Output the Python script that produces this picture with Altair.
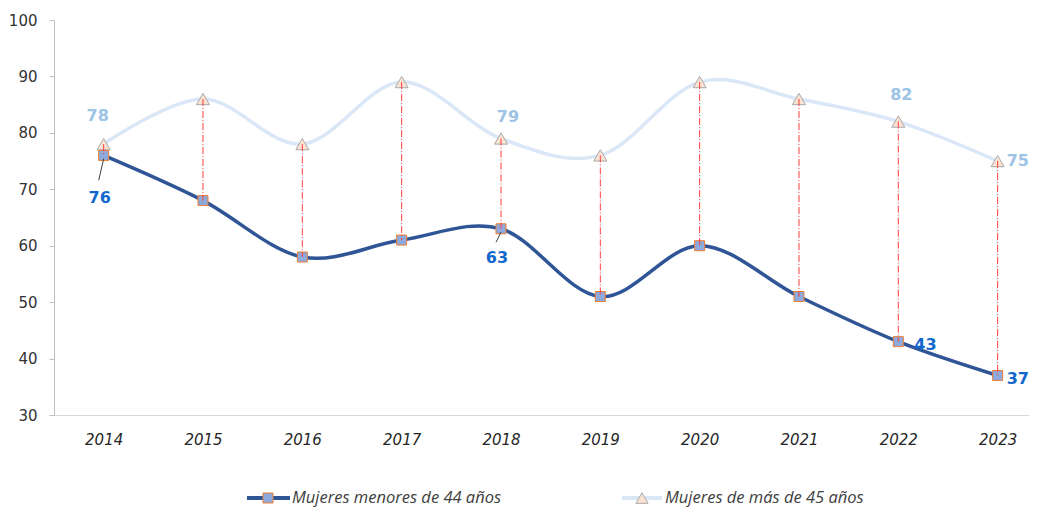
import altair as alt
import pandas as pd

YEARS = [2014, 2015, 2016, 2017, 2018, 2019, 2020, 2021, 2022, 2023]
MENORES = [76, 68, 58, 61, 63, 51, 60, 51, 43, 37]
MAYORES = [78, 86, 78, 89, 79, 76, 89, 86, 82, 75]
SERIES = ["Mujeres menores de 44 años", "Mujeres de más de 45 años"]
Y_TICKS = [30, 40, 50, 60, 70, 80, 90, 100]

DARK = "#2F5597"
LIGHT = "#DAE7F6"
LBL_DARK = "#1368CE"
LBL_LIGHT = "#9DC3E6"

wide = pd.DataFrame({"year": YEARS, "men": MENORES, "may": MAYORES})

PLOT_W = 975
STEP = 99.33
xs = alt.Scale(domain=[2013.5, 2013.5 + PLOT_W / STEP], nice=False, zero=False)
ys = alt.Scale(domain=[30, 100], nice=False, zero=False)

X = alt.X("year:Q", scale=xs, axis=alt.Axis(
    values=YEARS, format="d", ticks=False, grid=False, domainColor="#D9D9D9",
    labelFont="DejaVu Sans", labelFontStyle="italic", labelFontSize=15,
    labelColor="#262626", labelPadding=17, title=None, labelFlush=False))

Y_AXIS = alt.Axis(values=Y_TICKS, grid=False, tickSize=5, tickColor="#BFBFBF",
                  domainColor="#BFBFBF", labelPadding=12, labelFontSize=15,
                  labelFont="DejaVu Sans", labelColor="#333333", title=None)

def Y(field):
    return alt.Y(f"{field}:Q", scale=ys, axis=Y_AXIS)

base = alt.Chart(wide)

line_may = base.mark_line(color=LIGHT, strokeWidth=3.5, interpolate="cardinal").encode(x=X, y=Y("may"))
line_men = base.mark_line(color=DARK, strokeWidth=3.5, interpolate="cardinal").encode(x=X, y=Y("men"))

tri = base.mark_point(shape="triangle-up", size=170, filled=True, fill="#FBE3D3",
                      stroke="#A9A9A9", strokeWidth=1, opacity=1).encode(x=X, y=Y("may"))
sq = base.mark_square(size=100, fill="#8EA9DB", stroke="#ED7D31", strokeWidth=1,
                      opacity=1).encode(x=X, y=Y("men"))

drop = base.mark_rule(color="#FF3B3B", strokeWidth=1, strokeDash=[7, 2, 1, 2]).encode(
    x=X, y=Y("may"), y2="men:Q")

def lab(year, field, color, dx, dy, align="center"):
    return base.transform_filter(alt.datum.year == year).mark_text(
        font="DejaVu Sans", fontWeight="bold", fontSize=16, color=color,
        dx=dx, dy=dy, align=align, baseline="middle").encode(
        x=X, y=Y(field), text=alt.Text(f"{field}:Q", format="d"))

labels = [
    lab(2014, "may", LBL_LIGHT, -6, -28),
    lab(2018, "may", LBL_LIGHT, 7, -22),
    lab(2022, "may", LBL_LIGHT, 3, -27),
    lab(2023, "may", LBL_LIGHT, 9, 0, "left"),
    lab(2014, "men", LBL_DARK, -4, 43),
    lab(2018, "men", LBL_DARK, -4, 29),
    lab(2022, "men", LBL_DARK, 16, 3, "left"),
    lab(2023, "men", LBL_DARK, 9, 3, "left"),
]

leader = base.transform_filter(
    (alt.datum.year == 2014) | (alt.datum.year == 2018)
).transform_calculate(
    x2="datum.year - 0.05",
    y1="datum.men - 0.6",
    y2="datum.year == 2014 ? datum.men - 4.4 : datum.men - 2.4",
).mark_rule(color="#404040", strokeWidth=1).encode(x=X, y=Y("y1"), x2="x2:Q", y2="y2:Q")

# custom legend
LEG_Y = 478
leg0 = alt.Data(values=[{"s": SERIES[0]}])
leg1 = alt.Data(values=[{"s": SERIES[1]}])
legend = [
    alt.Chart(leg0).mark_rule(color=DARK, strokeWidth=4).encode(
        x=alt.value(193), x2=alt.value(236), y=alt.value(LEG_Y)),
    alt.Chart(leg0).mark_square(size=100, fill="#8EA9DB", stroke="#ED7D31", strokeWidth=1, opacity=1).encode(
        x=alt.value(214), y=alt.value(LEG_Y)),
    alt.Chart(leg0).mark_text(align="left", baseline="middle", font="Open Sans", fontStyle="italic",
                              fontSize=16.5, color="#404040").encode(
        x=alt.value(238), y=alt.value(LEG_Y), text="s:N"),
    alt.Chart(leg1).mark_rule(color=LIGHT, strokeWidth=4).encode(
        x=alt.value(568), x2=alt.value(608), y=alt.value(LEG_Y)),
    alt.Chart(leg1).mark_point(shape="triangle-up", size=150, filled=True, fill="#FBE3D3",
                               stroke="#A9A9A9", strokeWidth=1, opacity=1).encode(
        x=alt.value(588), y=alt.value(LEG_Y)),
    alt.Chart(leg1).mark_text(align="left", baseline="middle", font="Open Sans", fontStyle="italic",
                              fontSize=16.5, color="#404040").encode(
        x=alt.value(611), y=alt.value(LEG_Y), text="s:N"),
]

chart = alt.layer(
    line_may, line_men, tri, sq, drop, leader, *labels, *legend
).properties(
    width=PLOT_W, height=395,
    autosize=alt.AutoSizeParams(type="none"),
    padding={"left": 46, "top": 12, "right": 0, "bottom": 94},
    background="white",
).configure_view(stroke=None)

chart.save("out.html", embed_options={"renderer": "svg", "actions": False})
